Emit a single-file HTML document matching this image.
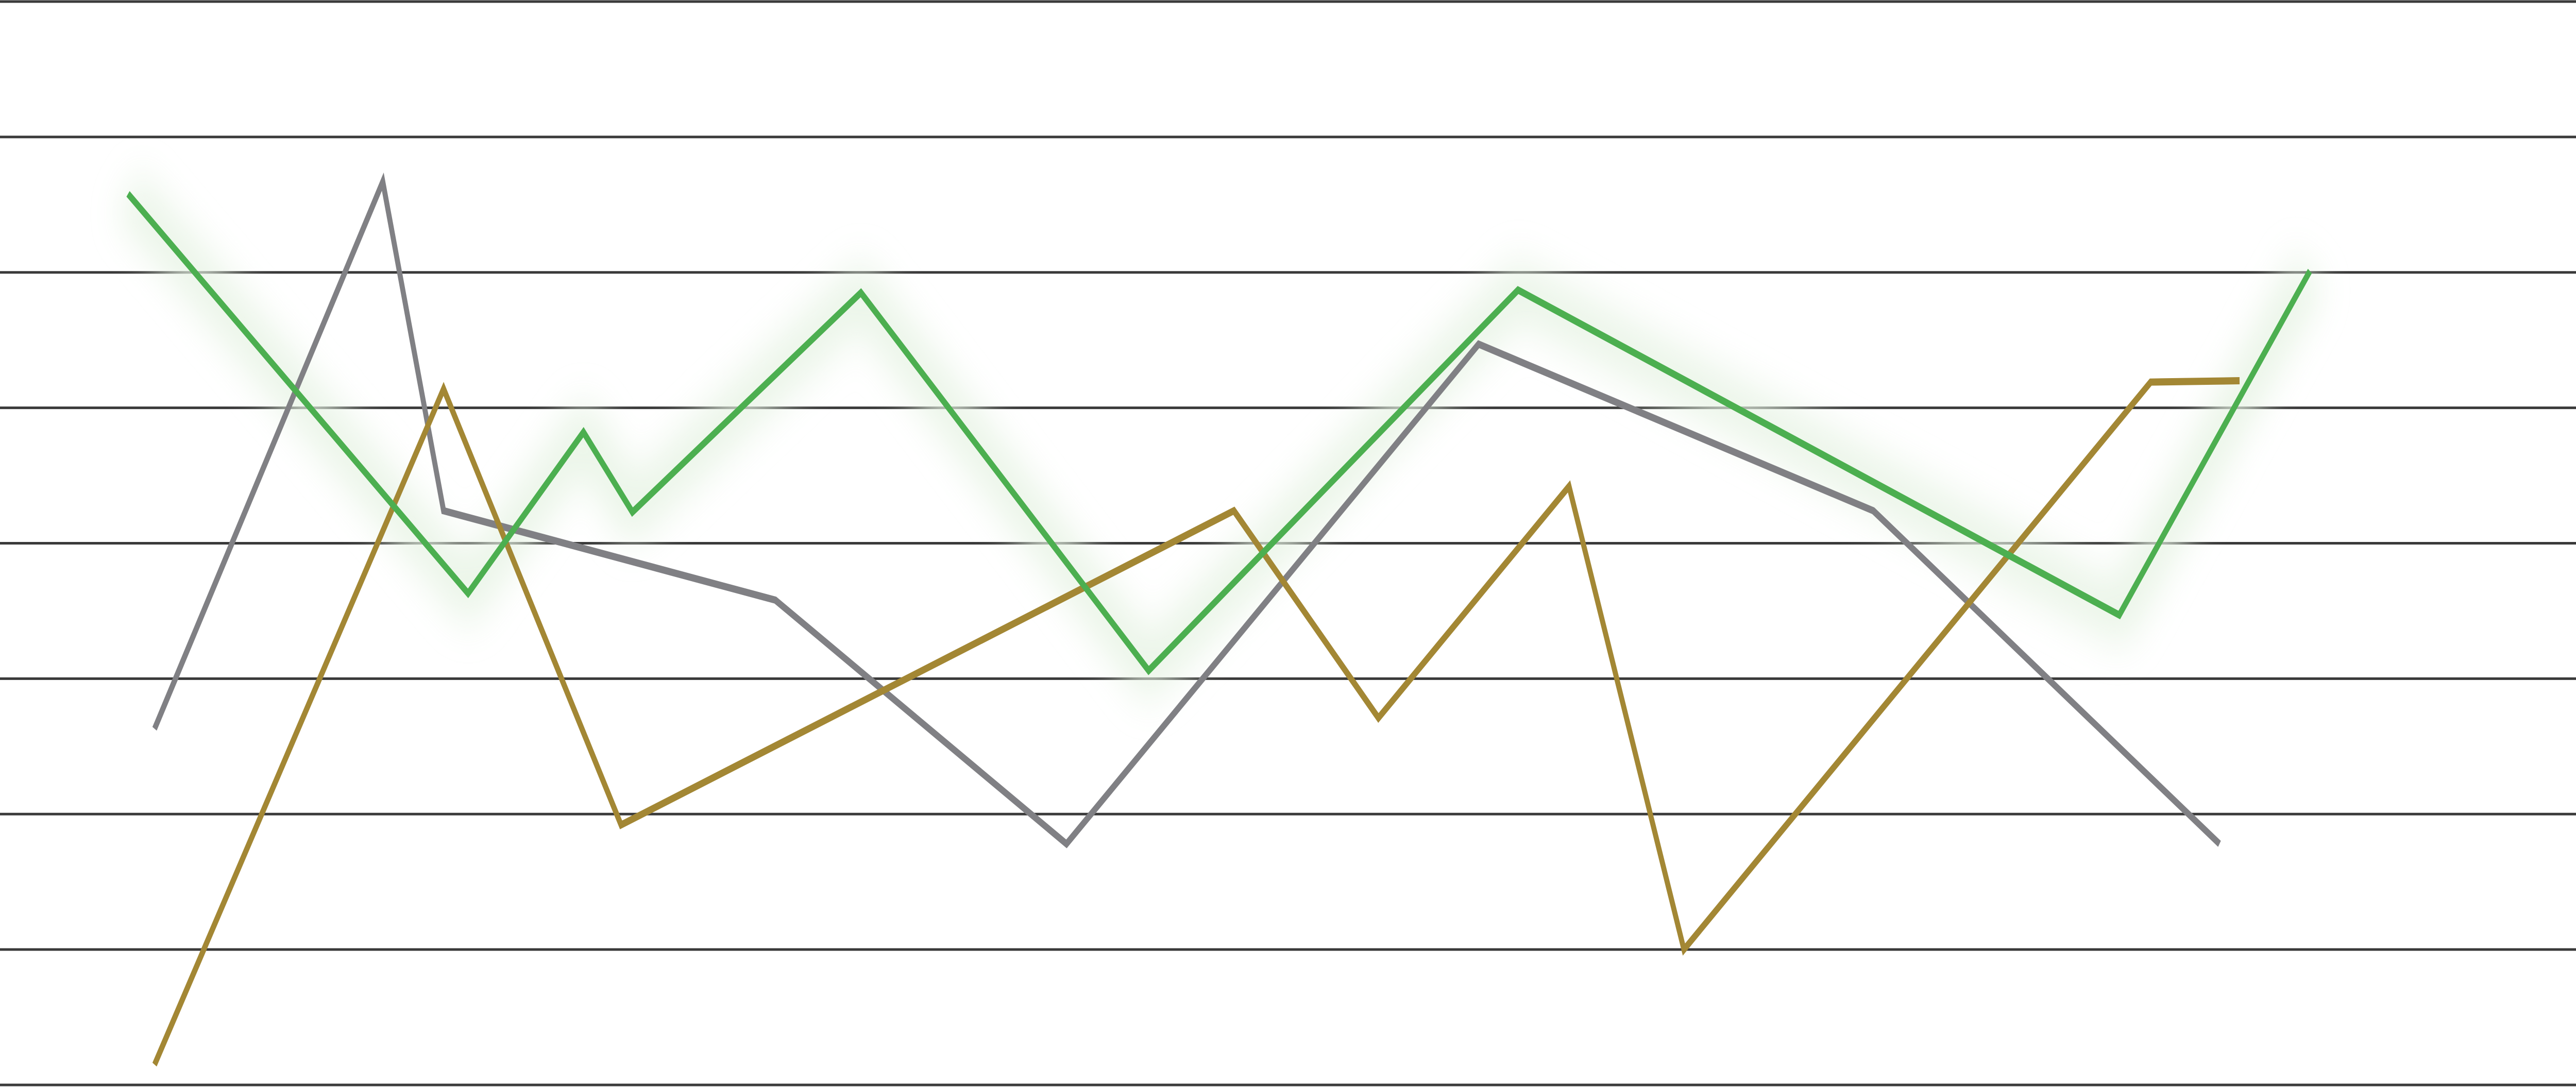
<!DOCTYPE html>
<html><head><meta charset="utf-8"><style>
html,body{margin:0;padding:0;background:#fff;width:100%;height:100%;overflow:hidden;}
svg{display:block;width:100vw;height:100vh;}
</style></head><body>
<svg id="chart" viewBox="0 0 7242 2110" preserveAspectRatio="none" xmlns="http://www.w3.org/2000/svg">
<defs><filter id="glow" x="-10%" y="-20%" width="120%" height="140%"><feGaussianBlur stdDeviation="40"/></filter></defs>
<g id="grid"></g>
<g id="series"></g>
</svg>
<script>
const gridTicks = [0,1,2,3,4,5,6,7,8];
const grayX = [6.0,14.86,17.22,30.1,41.4,57.4,72.72,86.16];
const grayY = [2.63,6.67,4.24,3.58,1.78,5.47,4.24,1.78];
const greenX = [4.97,18.17,22.65,24.55,33.42,44.59,58.93,82.27,89.67];
const greenY = [6.58,3.63,4.82,4.23,5.85,3.06,5.87,3.47,6.01];
const goldX = [6.0,17.22,24.11,47.9,53.51,60.91,65.37,83.49,86.94];
const goldY = [0.15,5.14,1.92,4.24,2.71,4.42,1.0,5.19,5.2];

const W=7242, yTop=3, yBot=2106;
const xScale = v => v/100*W;
const yScale = v => yBot - v*(yBot-yTop)/8;
const NS='http://www.w3.org/2000/svg';
const grid=document.getElementById('grid');
gridTicks.forEach(t=>{
  const l=document.createElementNS(NS,'line');
  l.setAttribute('x1',0);l.setAttribute('x2',W);
  l.setAttribute('y1',yScale(t));l.setAttribute('y2',yScale(t));
  l.setAttribute('stroke','#3a3a3a');l.setAttribute('stroke-width',5);
  
  
  grid.appendChild(l);
});
const sg=document.getElementById('series');
function pts(xs,ys){return xs.map((x,i)=>xScale(x)+','+yScale(ys[i])).join(' ');}
const glow=document.createElementNS(NS,'polyline');
glow.setAttribute('points',pts(greenX,greenY));
glow.setAttribute('fill','none');glow.setAttribute('stroke','#e6f3e3');
glow.setAttribute('stroke-width',110);glow.setAttribute('stroke-linejoin','round');
glow.setAttribute('filter','url(#glow)');glow.setAttribute('opacity','0.8');


sg.appendChild(glow);
function line(xs,ys,color,name){
  const p=document.createElementNS(NS,'polyline');
  p.setAttribute('points',pts(xs,ys));
  p.setAttribute('fill','none');p.setAttribute('stroke',color);
  p.setAttribute('stroke-width',14);p.setAttribute('stroke-linejoin','miter');
  
  
  sg.appendChild(p);
}
line(grayX,grayY,'#808084','gray-series-line');
line(goldX,goldY,'#a38734','gold-series-line');
line(greenX,greenY,'#4caf50','green-series-line');
</script>
</body></html>
